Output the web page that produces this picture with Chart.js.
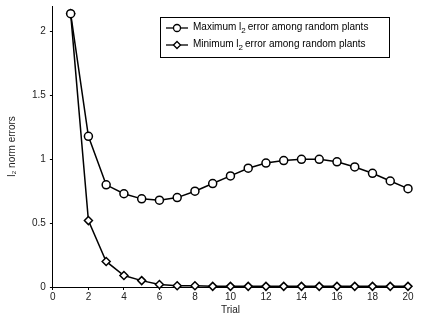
<!DOCTYPE html>
<html>
<head>
<meta charset="utf-8">
<script src="https://cdn.jsdelivr.net/npm/chart.js@4/dist/chart.umd.min.js"></script>
<style>
  body { margin: 0; background: #fff; }
  #wrap { width: 421px; height: 321px; }
</style>
</head>
<body>
<div id="wrap"><canvas id="c"></canvas></div>
<script>
const trials = [1, 2, 3, 4, 5, 6, 7, 8, 9, 10, 11, 12, 13, 14, 15, 16, 17, 18, 19, 20];
const maxErr = [2.14, 1.18, 0.80, 0.73, 0.69, 0.68, 0.70, 0.75, 0.81, 0.87, 0.93, 0.97, 0.99, 1.00, 1.00, 0.98, 0.94, 0.89, 0.83, 0.77];
const minErr = [2.14, 0.52, 0.20, 0.09, 0.05, 0.02, 0.01, 0.01, 0.005, 0.005, 0.005, 0.005, 0.005, 0.005, 0.005, 0.005, 0.005, 0.005, 0.005, 0.005];
const yTicks = [0, 0.5, 1, 1.5, 2];
const legendLabels = ["Maximum l", "Minimum l"];

const FONT = "'Liberation Sans', Arial, sans-serif";

// legend box with subscripted "2", drawn by hand
const subLegend = {
  id: "subLegend",
  afterDraw(chart) {
    const ctx = chart.ctx;
    const styles = ["circle", "rectRot"];
    const x0 = 160, y0 = 17, w = 229, h = 40;
    ctx.save();
    ctx.fillStyle = "#fff";
    ctx.fillRect(x0, y0, w, h);
    ctx.strokeStyle = "#000";
    ctx.lineWidth = 1;
    ctx.strokeRect(x0 + 0.5, y0 + 0.5, w, h);
    legendLabels.forEach((lab, i) => {
      const y = y0 + 11 + i * 17;
      ctx.beginPath();
      ctx.moveTo(x0 + 6, y);
      ctx.lineTo(x0 + 28, y);
      ctx.lineWidth = 1.3;
      ctx.stroke();
      ctx.fillStyle = "#fff";
      Chart.helpers.drawPoint(ctx, { pointStyle: styles[i], radius: 3.5, borderWidth: 1.5 }, x0 + 17, y);
      ctx.fillStyle = "#000";
      ctx.font = "10px " + FONT;
      ctx.textBaseline = "middle";
      ctx.textAlign = "left";
      let tx = x0 + 33;
      ctx.fillText(lab, tx, y - 1);
      tx += ctx.measureText(lab).width;
      ctx.font = "8px " + FONT;
      ctx.fillText("2", tx, y + 3);
      tx += ctx.measureText("2").width + 2;
      ctx.font = "10px " + FONT;
      ctx.fillText("error among random plants", tx, y - 1);
    });
    ctx.restore();
  }
};

new Chart(document.getElementById("c"), {
  type: "line",
  data: {
    datasets: [
      {
        label: "max",
        data: trials.map((t, i) => ({ x: t, y: maxErr[i] })),
        borderColor: "#000",
        backgroundColor: "#fff",
        borderWidth: 1.5,
        pointStyle: "circle",
        pointRadius: 4,
        pointBorderWidth: 1.5,
        tension: 0
      },
      {
        label: "min",
        data: trials.map((t, i) => ({ x: t, y: minErr[i] })),
        borderColor: "#000",
        backgroundColor: "#fff",
        borderWidth: 1.5,
        pointStyle: "rectRot",
        pointRadius: 4,
        pointBorderWidth: 1.5,
        tension: 0
      }
    ]
  },
  options: {
    responsive: true,
    maintainAspectRatio: false,
    animation: false,
    clip: false,
    layout: { padding: { top: 5, right: 13, left: 6, bottom: 5 } },
    plugins: { legend: { display: false }, tooltip: { enabled: false } },
    scales: {
      x: {
        type: "linear",
        min: 0,
        max: 20,
        ticks: { stepSize: 2, color: "#222", font: { size: 10, family: FONT }, padding: 1, maxRotation: 0 },
        grid: { drawOnChartArea: false, tickLength: 3, color: "#000" },
        border: { color: "#000", width: 1 },
        title: { display: true, text: "Trial", color: "#222", font: { size: 10, family: FONT }, padding: { top: 0, bottom: 0 } }
      },
      y: {
        min: 0,
        max: 2.2,
        afterBuildTicks(scale) { scale.ticks = yTicks.map(v => ({ value: v })); },
        ticks: { color: "#222", font: { size: 10, family: FONT, lineHeight: 0.4 }, padding: 4, callback: v => String(v) },
        grid: { drawOnChartArea: false, tickLength: 3, color: "#000" },
        border: { color: "#000", width: 1 },
        title: { display: true, text: "l₂ norm errors", color: "#222", font: { size: 10, family: FONT }, padding: { top: 0, bottom: 10 } }
      }
    }
  },
  plugins: [subLegend]
});
</script>
</body>
</html>
